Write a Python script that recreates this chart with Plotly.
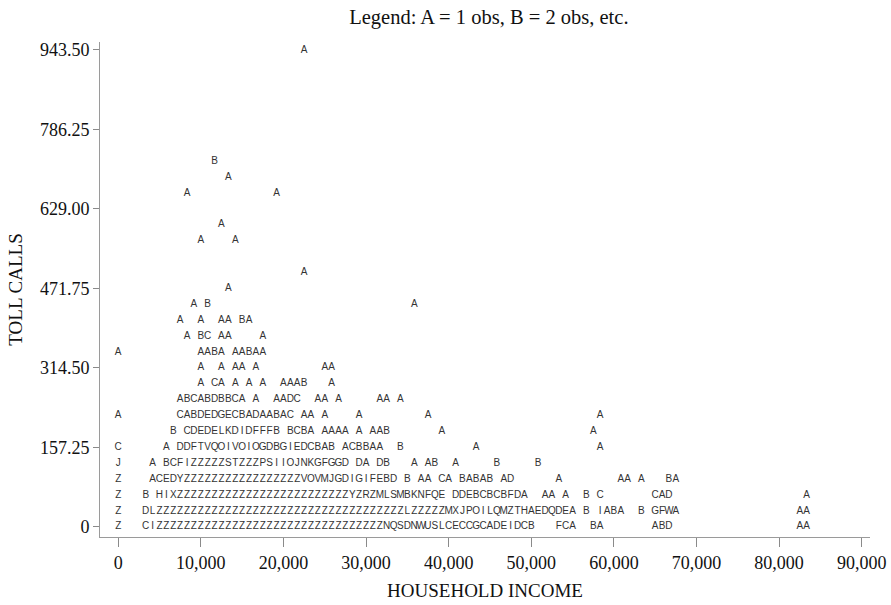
import plotly.graph_objects as go

# ---- axis definitions ----
income_ticks = [0, 10000, 20000, 30000, 40000, 50000, 60000, 70000, 80000, 90000]
income_tick_labels = ["0", "10,000", "20,000", "30,000", "40,000", "50,000",
                      "60,000", "70,000", "80,000", "90,000"]
calls_ticks = [0, 157.25, 314.50, 471.75, 629.00, 786.25, 943.50]
calls_tick_labels = ["0", "157.25", "314.50", "471.75", "629.00", "786.25", "943.50"]

# character-plot resolution: income per print column, toll calls per print row
BIN_INCOME = 10000 / 12
ROW_CALLS = 943.50 / 30

# ---- plotted symbols (A = 1 obs, B = 2 obs, ...) ----
# each segment: print row (calls level), first print column (income bin), letters
seg_row = [
    0, 0, 0, 0, 0, 0,
    1, 1, 1,
    2, 2, 2, 2,
    3, 3, 3, 3, 3,
    4, 4, 4, 4, 4,
    5, 5, 5, 5, 5,
    6, 6, 6,
    7, 7, 7, 7, 7,
    8, 8,
    9,
    10, 10,
    11, 11,
    12,
    13,
    14, 14,
    15, 16, 18, 18, 19, 21, 21, 22, 23, 30,
]
seg_col = [
    0, 4, 64, 69, 78, 99,
    0, 4, 99,
    0, 4, 78, 100,
    0, 5, 64, 73, 80,
    0, 5, 43, 55, 61,
    0, 7, 41, 52, 70,
    8, 47, 69,
    0, 9, 35, 45, 70,
    9, 38,
    12,
    12, 30,
    0, 12,
    10,
    9,
    11, 43,
    16, 27, 12, 17, 15, 10, 23, 16, 14, 27,
]
seg_text = [
    "Z", "CI" + "Z" * 33 + "NQSDNWUSLCECCGCADEIDCB", "FCA", "BA", "ABD", "AA",
    "Z", "DL" + "Z" * 36 + "L" + "Z" * 5 + "MXJPOILQMZTHAEDQDEA B IABA  B GFWA", "AA",
    "Z", "B HIX" + "Z" * 25 + "YZRZMLSMBKNFQE DDEBCBCBFDA  AA A  B C", "CAD", "A",
    "Z", "ACEDY" + "Z" * 17 + "VOVMJGDIGIFEBD B AA CA BABAB AD", "A", "AA A", "BA",
    "J", "A BCFIZZZZZSTZZZPSIIOJNKGFGGD DA DB", "A AB  A", "B", "B",
    "C", "A DDFTVQOIVOIOGDBGIEDCBAB ACBBAA", "B", "A", "A",
    "B CDEDELKDIDFFFB BCBA AAAA A AAB", "A", "A",
    "A", "CABDEDGECBADAABAC AA A", "A", "A", "A",
    "ABCABDBBCA A  AADC  AA A", "AA A",
    "A CA A A A  AAAB   A",
    "A  A AA A", "AA",
    "A", "AABA AABAA",
    "A BC AA    A",
    "A  A  AA BA",
    "A B", "A",
    "A", "A", "A", "A", "A", "A", "A", "A", "B", "A",
]

xs, ys, letters = [], [], []
for r, c0, txt in zip(seg_row, seg_col, seg_text):
    for i, ch in enumerate(txt):
        if ch != " ":
            xs.append((c0 + i) * BIN_INCOME)
            ys.append(r * ROW_CALLS)
            letters.append(ch)

fig = go.Figure()
fig.add_trace(go.Scatter(
    x=xs, y=ys, text=letters, mode="text",
    textposition="middle center",
    textfont=dict(family="Liberation Sans, Arial, sans-serif", size=10, color="#333333"),
    hoverinfo="skip", showlegend=False,
))

serif = "Liberation Serif, Times New Roman, serif"
fig.update_layout(
    width=891, height=605,
    margin=dict(l=100, r=21, t=42, b=68),
    paper_bgcolor="white", plot_bgcolor="white",
    font=dict(family=serif, size=18, color="#111"),
    title=dict(text="Legend: A = 1 obs, B = 2 obs, etc.", x=0.505, xref="paper", xanchor="center",
               y=0.973, yanchor="middle", font=dict(family=serif, size=20.5, color="#111")),
    showlegend=False,
)
fig.update_xaxes(
    range=[-2200, 91000], tickvals=income_ticks, ticktext=income_tick_labels,
    automargin=False,
    showgrid=False, zeroline=False, showline=True, linecolor="#9a9a9a", linewidth=1,
    ticks="outside", ticklen=9, tickcolor="#8a8a8a", tickwidth=1,
    tickfont=dict(family=serif, size=18, color="#111"),
    title=dict(text="HOUSEHOLD INCOME", font=dict(family=serif, size=19, color="#111"), standoff=12),
)
fig.update_yaxes(
    range=[-19.8, 959.3], tickvals=calls_ticks, ticktext=calls_tick_labels,
    automargin=False,
    showgrid=False, zeroline=False, showline=True, linecolor="#9a9a9a", linewidth=1,
    ticks="outside", ticklen=6, tickcolor="#8a8a8a", tickwidth=1,
    tickfont=dict(family=serif, size=18, color="#111"),
    title=dict(text="TOLL CALLS", font=dict(family=serif, size=19, color="#111"), standoff=12),
)

fig.write_html("out.html")
